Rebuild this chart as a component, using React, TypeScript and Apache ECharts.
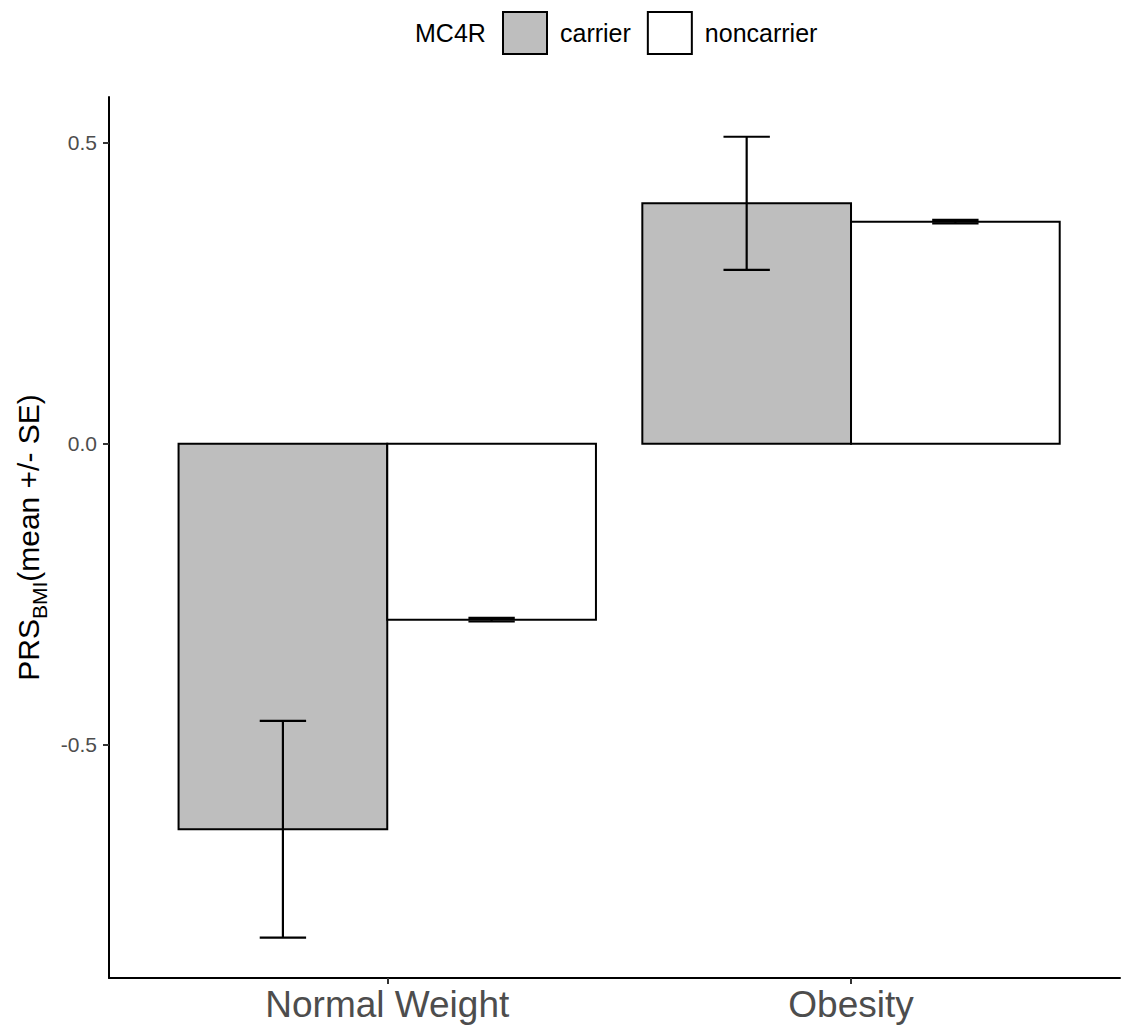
import React, { useEffect, useRef } from "react";
import * as echarts from "echarts";

const categories = ["Normal Weight", "Obesity"];
const groups = ["carrier", "noncarrier"];
const carrierMean = [-0.64, 0.3995];
const carrierSE = [0.18, 0.1105];
const noncarrierMean = [-0.292, 0.369];
const noncarrierSE = [0.003, 0.003];
const yTicks = [-0.5, 0, 0.5];
const groupColors = ["#BEBEBE", "#FFFFFF"];

const FONT = "'Liberation Sans', Arial, sans-serif";
const DODGE = 0.45; // half of total bar width per group
const CAP = 0.05;

export default function App() {
  const ref = useRef<HTMLDivElement>(null);
  useEffect(() => {
    const chart = echarts.init(ref.current!, null, { renderer: "svg" });

    const barRender = (offsetSign: number) => (params: any, api: any) => {
      const x = api.value(0);
      const v = api.value(1);
      const x0 = offsetSign < 0 ? x - DODGE : x;
      const x1 = offsetSign < 0 ? x : x + DODGE;
      const p0 = api.coord([x0, 0]);
      const p1 = api.coord([x1, v]);
      return {
        type: "rect",
        shape: {
          x: Math.min(p0[0], p1[0]),
          y: Math.min(p0[1], p1[1]),
          width: Math.abs(p1[0] - p0[0]),
          height: Math.abs(p1[1] - p0[1]),
        },
        style: { fill: api.visual("color"), stroke: "#000", lineWidth: 2 },
      };
    };

    const errRender = (params: any, api: any) => {
      const x = api.value(0);
      const lo = api.value(1);
      const hi = api.value(2);
      const pLo = api.coord([x, lo]);
      const pHi = api.coord([x, hi]);
      const cl = api.coord([x - CAP, lo]);
      const cr = api.coord([x + CAP, lo]);
      const style = { stroke: "#000", lineWidth: 2.2 };
      return {
        type: "group",
        children: [
          { type: "line", shape: { x1: pLo[0], y1: pLo[1], x2: pHi[0], y2: pHi[1] }, style },
          { type: "line", shape: { x1: cl[0], y1: pLo[1], x2: cr[0], y2: pLo[1] }, style },
          { type: "line", shape: { x1: cl[0], y1: pHi[1], x2: cr[0], y2: pHi[1] }, style },
        ],
      };
    };

    const carrierData = categories.map((c, i) => [i + 1, carrierMean[i]]);
    const noncarrierData = categories.map((c, i) => [i + 1, noncarrierMean[i]]);
    const errData: number[][] = [];
    categories.forEach((c, i) => {
      errData.push([i + 1 - DODGE / 2, carrierMean[i] - carrierSE[i], carrierMean[i] + carrierSE[i]]);
      errData.push([i + 1 + DODGE / 2, noncarrierMean[i] - noncarrierSE[i], noncarrierMean[i] + noncarrierSE[i]]);
    });

    chart.setOption({
      animation: false,
      backgroundColor: "#FFFFFF",
      textStyle: { fontFamily: FONT },
      grid: { left: 109, right: 14, top: 97, bottom: 47, containLabel: false },
      legend: {
        data: groups,
        left: 502,
        top: 11,
        padding: 0,
        itemWidth: 44,
        itemHeight: 42,
        itemGap: 16,
        icon: "rect",
        itemStyle: { borderColor: "#000", borderWidth: 2 },
        textStyle: { fontSize: 25, color: "#000", fontFamily: FONT, padding: [0, 0, 0, 8] },
      },
      graphic: [
        {
          type: "text",
          left: 415,
          top: 20,
          style: { text: "MC4R", fontSize: 25, fill: "#000", fontFamily: FONT },
        },
      ],
      xAxis: {
        type: "value",
        min: 0.4,
        max: 2.58,
        splitLine: { show: false },
        axisLine: { show: true, onZero: false, lineStyle: { color: "#000", width: 2 } },
        axisTick: { show: true, customValues: [1, 2], length: 6, lineStyle: { color: "#333", width: 2 } },
        axisLabel: {
          customValues: [1, 2],
          formatter: (v: number) => categories[Math.round(v) - 1] ?? "",
          fontSize: 37,
          color: "#4D4D4D",
          margin: 8,
          fontFamily: FONT,
        },
      },
      yAxis: {
        type: "value",
        min: -0.887,
        max: 0.576,
        splitLine: { show: false },
        axisLine: { show: true, onZero: false, lineStyle: { color: "#000", width: 2 } },
        axisTick: { show: true, customValues: yTicks, length: 6, lineStyle: { color: "#333", width: 2 } },
        axisLabel: {
          customValues: yTicks,
          formatter: (v: number) => v.toFixed(1),
          fontSize: 21,
          color: "#4D4D4D",
          margin: 12,
          fontFamily: FONT,
        },
        name: "{a|PRS}{b|BMI}{a|(mean +/- SE)}",
        nameLocation: "middle",
        nameGap: 62,
        nameTextStyle: {
          rich: {
            a: { fontSize: 30, color: "#000", fontFamily: FONT, verticalAlign: "bottom" },
            b: { fontSize: 21, color: "#000", fontFamily: FONT, verticalAlign: "bottom", padding: [0, 0, -6, 0] },
          },
        },
      },
      series: [
        {
          name: "carrier",
          type: "custom",
          renderItem: barRender(-1),
          itemStyle: { color: groupColors[0], borderColor: "#000", borderWidth: 2 },
          encode: { x: 0, y: 1 },
          data: carrierData,
          z: 2,
        },
        {
          name: "noncarrier",
          type: "custom",
          renderItem: barRender(1),
          itemStyle: { color: groupColors[1], borderColor: "#000", borderWidth: 2 },
          encode: { x: 0, y: 1 },
          data: noncarrierData,
          z: 2,
        },
        {
          name: "errors",
          type: "custom",
          renderItem: errRender,
          encode: { x: 0, y: [1, 2] },
          data: errData,
          z: 3,
        },
      ],
    });
    return () => chart.dispose();
  }, []);
  return (
    <div
      ref={ref}
      style={{ position: "absolute", left: 0, top: 0, width: 1134, height: 1025, background: "#fff" }}
    />
  );
}
